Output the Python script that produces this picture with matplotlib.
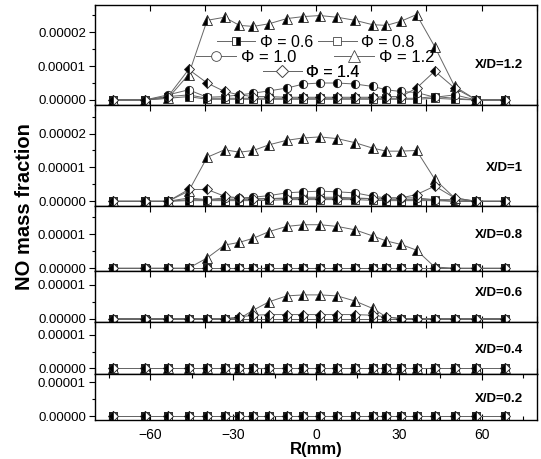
import numpy as np
import matplotlib.pyplot as plt
from matplotlib.lines import Line2D
from matplotlib.ticker import MultipleLocator, FormatStrFormatter

plt.rcParams['font.family'] = ['Liberation Sans', 'DejaVu Sans']

# radial positions (mm)
R = [-73.6, -62, -53.6, -46.1, -39.4, -33.1, -27.7, -22.7, -16.9, -10.6, -4.6,
     1.4, 7.7, 14.1, 20.5, 25.5, 30.7, 36.4, 43.0, 50.2, 58.1, 68.3]

phis = ['0.6', '0.8', '1.0', '1.2', '1.4']
stations = ['X/D=1.2', 'X/D=1', 'X/D=0.8', 'X/D=0.6', 'X/D=0.4', 'X/D=0.2']
zeros = [0] * 22

# NO mass fraction, units of 1e-5
# X/D = 1.2
xd12_phi06 = [0, 0, 0.1, 0.15, 0.05, 0.05, 0.05, 0.05, 0.05, 0.05, 0.05, 0.05, 0.05, 0.05, 0.05, 0.05, 0.05, 0.05, 0.1, 0.05, 0, 0]
xd12_phi08 = [0, 0, 0.05, 0.1, 0.02, 0.02, 0.02, 0.02, 0.02, 0.02, 0.02, 0.02, 0.02, 0.02, 0.02, 0.02, 0.02, 0.02, 0.05, 0.02, 0, 0]
xd12_phi10 = [0, 0, 0.15, 0.3, 0.08, 0.1, 0.15, 0.2, 0.27, 0.35, 0.47, 0.5, 0.5, 0.47, 0.4, 0.3, 0.25, 0.22, 0.08, 0.15, 0, 0]
xd12_phi12 = [0, 0, 0.05, 0.75, 2.35, 2.44, 2.2, 2.17, 2.25, 2.4, 2.46, 2.49, 2.44, 2.35, 2.22, 2.2, 2.32, 2.52, 1.57, 0.4, 0, 0]
xd12_phi14 = [0, 0, 0.1, 0.9, 0.5, 0.25, 0.15, 0.1, 0.1, 0.08, 0.08, 0.08, 0.08, 0.08, 0.08, 0.1, 0.1, 0.35, 0.85, 0.35, 0, 0]
# X/D = 1
xd10_phi06 = [0, 0, 0, 0.05, 0.05, 0.05, 0.05, 0.05, 0.08, 0.1, 0.12, 0.12, 0.12, 0.1, 0.08, 0.05, 0.05, 0.05, 0.05, 0, 0, 0]
xd10_phi08 = [0, 0, 0, 0.02, 0.02, 0.02, 0.02, 0.02, 0.03, 0.05, 0.05, 0.05, 0.05, 0.05, 0.03, 0.02, 0.02, 0.02, 0.02, 0, 0, 0]
xd10_phi10 = [0, 0, 0, 0.1, 0.05, 0.1, 0.1, 0.12, 0.17, 0.25, 0.28, 0.3, 0.28, 0.25, 0.15, 0.1, 0.1, 0.1, 0.05, 0.05, 0, 0]
xd10_phi12 = [0, 0, 0, 0.3, 1.3, 1.52, 1.45, 1.5, 1.67, 1.8, 1.87, 1.9, 1.85, 1.73, 1.57, 1.48, 1.48, 1.5, 0.65, 0.1, 0, 0]
xd10_phi14 = [0, 0, 0, 0.35, 0.35, 0.15, 0.1, 0.08, 0.08, 0.08, 0.08, 0.08, 0.08, 0.08, 0.08, 0.1, 0.1, 0.2, 0.45, 0.1, 0, 0]
# X/D = 0.8
xd08_phi12 = [0, 0, 0, 0, 0.3, 0.68, 0.76, 0.88, 1.08, 1.23, 1.28, 1.28, 1.23, 1.13, 0.95, 0.8, 0.7, 0.53, 0.03, 0, 0, 0]
# X/D = 0.6
xd06_phi12 = [0, 0, 0, 0, 0, 0, 0, 0.25, 0.5, 0.67, 0.7, 0.7, 0.67, 0.52, 0.3, 0.05, 0, 0, 0, 0, 0, 0]
xd06_phi14 = [0, 0, 0, 0, 0, 0, 0.05, 0.1, 0.12, 0.12, 0.12, 0.12, 0.12, 0.12, 0.1, 0.05, 0, 0, 0, 0, 0, 0]

panels = [
    [xd12_phi06, xd12_phi08, xd12_phi10, xd12_phi12, xd12_phi14],
    [xd10_phi06, xd10_phi08, xd10_phi10, xd10_phi12, xd10_phi14],
    [zeros, zeros, zeros, xd08_phi12, zeros],
    [zeros, zeros, zeros, xd06_phi12, xd06_phi14],
    [zeros, zeros, zeros, zeros, zeros],
    [zeros, zeros, zeros, zeros, zeros],
]

ylims = [(-0.15, 2.8), (-0.15, 2.84), (-0.09, 1.82), (-0.09, 1.4), (-0.15, 1.38), (-0.11, 1.26)]
label_y = [0.40, 0.38, 0.56, 0.56, 0.46, 0.46]
markers = ['s', 's', 'o', '^', 'D']
msizes = [5.5, 5.5, 6, 7, 5]

fig = plt.figure(figsize=(5.41, 4.59), dpi=100)
gs = fig.add_gridspec(6, 1, left=0.1756, right=0.9926, top=0.989, bottom=0.085,
                      hspace=0, height_ratios=[hi - lo for lo, hi in ylims])

axes = []
for i in range(6):
    ax = fig.add_subplot(gs[i])
    axes.append(ax)
    for j in range(5):
        ax.plot(R, np.array(panels[i][j]) * 1e-5, color='#666666', lw=0.7,
                marker=markers[j], ms=msizes[j], fillstyle='left',
                mfc='black', mfcalt='white', mec='#222222', mew=0.6)
    lo, hi = ylims[i]
    ax.set_ylim(lo * 1e-5, hi * 1e-5)
    ax.set_xlim(-80, 80)
    ax.yaxis.set_major_locator(MultipleLocator(1e-5))
    ax.yaxis.set_minor_locator(MultipleLocator(0.5e-5))
    ax.yaxis.set_major_formatter(FormatStrFormatter('%.5f'))
    ax.tick_params(axis='y', which='major', direction='out', length=4, width=0.8,
                   labelsize=9.5, pad=2.5)
    ax.tick_params(axis='y', which='minor', direction='out', length=2, width=0.8)
    ax.tick_params(axis='x', which='both', direction='in', top=True, bottom=True, width=0.8)
    ax.tick_params(axis='x', which='major', length=4)
    ax.tick_params(axis='x', which='minor', length=3)
    if i < 5:
        ax.xaxis.set_major_locator(MultipleLocator(20))
        ax.tick_params(axis='x', labelbottom=False)
    else:
        ax.xaxis.set_major_locator(MultipleLocator(30))
        ax.xaxis.set_minor_locator(MultipleLocator(15))
        ax.tick_params(axis='x', labelsize=10, pad=6)
        ax.set_xlabel('R(mm)', fontsize=12, fontweight='bold', labelpad=0)
    for sp in ax.spines.values():
        sp.set_linewidth(1.0)
    ax.text(0.968, label_y[i], stations[i], transform=ax.transAxes, ha='right',
            va='center', fontsize=9.5, fontweight='bold')

fig.text(0.045, 0.55, 'NO mass fraction', rotation=90, ha='center', va='center',
         fontsize=14.5, fontweight='bold')

# legend rows inside top panel
def handle(m, ms, fs='none'):
    if fs == 'none':
        return Line2D([], [], color='#666666', lw=0.7, marker=m, ms=ms,
                      mfc='white', mec='#444444', mew=0.6)
    return Line2D([], [], color='#666666', lw=0.7, marker=m, ms=ms, fillstyle=fs,
                  mfc='black', mfcalt='white', mec='#222222', mew=0.6)

h = [handle('s', 6, 'right'), handle('s', 6), handle('o', 7), handle('^', 8), handle('D', 6)]
labs = ['Φ = ' + p for p in phis]
ax0 = axes[0]
rows = [([0, 1], 0.5, 0.63, 0.3, 11.5), ([2, 3], 0.498, 0.48, 2.3, 12), ([4], 0.49, 0.33, 0.5, 11.5)]
for idx, cx, cy, cs, fsz in rows:
    leg = ax0.legend([h[k] for k in idx], [labs[k] for k in idx], loc='center',
                     bbox_to_anchor=(cx, cy), ncol=len(idx), frameon=False,
                     fontsize=fsz, handlelength=2.4, handletextpad=0.3,
                     columnspacing=cs, borderpad=0, borderaxespad=0)
    ax0.add_artist(leg)

fig.savefig('out.png', dpi=100)
